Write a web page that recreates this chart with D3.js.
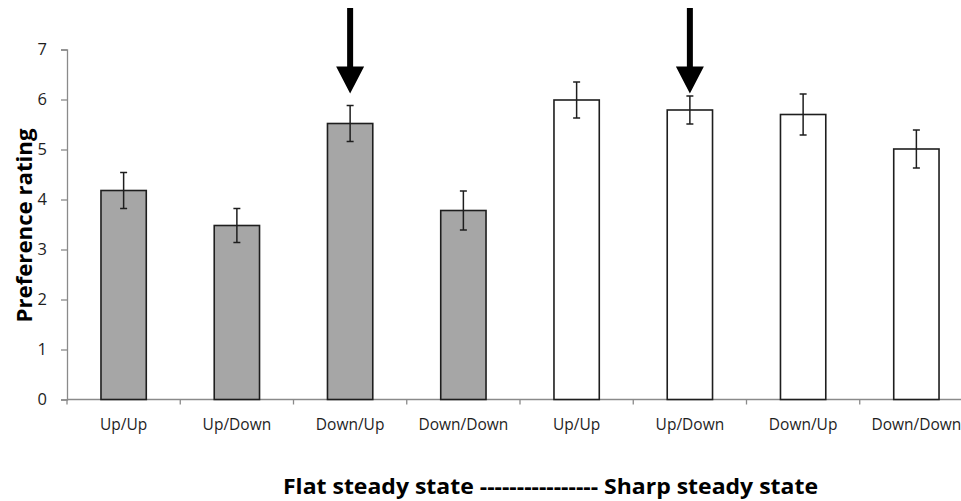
<!DOCTYPE html>
<html>
<head>
<meta charset="utf-8">
<script src="https://cdn.jsdelivr.net/npm/d3@7"></script>
<style>
  html, body { margin: 0; padding: 0; background: #fff; }
  svg { display: block; }
</style>
</head>
<body>
<svg id="chart" width="961" height="501"></svg>
<script>
// Pattern labels along the x axis (first four: flat steady state, last four: sharp)
const categories = ["Up/Up", "Up/Down", "Down/Up", "Down/Down", "Up/Up", "Up/Down", "Down/Up", "Down/Down"];
const steadyState = ["flat", "flat", "flat", "flat", "sharp", "sharp", "sharp", "sharp"];
// Mean preference rating and standard error for each condition
const means = [4.18, 3.48, 5.52, 3.78, 5.99, 5.79, 5.70, 5.01];
const errors = [0.36, 0.34, 0.36, 0.39, 0.36, 0.28, 0.41, 0.38];
const yTicks = [0, 1, 2, 3, 4, 5, 6, 7];
// Conditions highlighted with an arrow, and the rating level the arrow tips reach
const highlighted = [2, 5];
const arrowTipValue = 6.12;

const svg = d3.select("#chart");
const fontFamily = "'Open Sans', 'DejaVu Sans', sans-serif";

const axisLeftX = 67;
const plotRight = 973;
const yBottom = 399.5;
const yTop = 49.5;

const idx = categories.map((_, i) => i);

// One slot per condition; ticks sit on slot boundaries
const xGroup = d3.scaleBand().domain(idx).range([axisLeftX, plotRight]).padding(0);
// Bars inside the slots
const x = d3.scaleBand().domain(idx).range([axisLeftX, plotRight]).paddingInner(0.6).paddingOuter(0.3);
const y = d3.scaleLinear().domain([0, 7]).range([yBottom, yTop]);

const axisColor = "#8a8a8a";
const inkColor = "#1e1e1e";

// Y axis
const yAxis = svg.append("g")
  .attr("transform", `translate(${axisLeftX},0)`)
  .call(d3.axisLeft(y).tickValues(yTicks).tickFormat(d3.format("d")).tickSize(6).tickPadding(14));
yAxis.select(".domain").attr("stroke", axisColor).attr("stroke-width", 1.3);
yAxis.selectAll(".tick line").attr("stroke", axisColor).attr("stroke-width", 1.3);
yAxis.selectAll(".tick text")
  .attr("fill", inkColor)
  .style("font-family", fontFamily)
  .style("font-size", "16.5px");

// X axis line
svg.append("line")
  .attr("x1", axisLeftX).attr("x2", 961)
  .attr("y1", y(0)).attr("y2", y(0))
  .attr("stroke", axisColor).attr("stroke-width", 1.3);

// Boundary ticks
svg.append("g").selectAll("line")
  .data(idx.concat([categories.length]))
  .join("line")
  .attr("x1", d => d < categories.length ? xGroup(d) : xGroup(d - 1) + xGroup.bandwidth())
  .attr("x2", d => d < categories.length ? xGroup(d) : xGroup(d - 1) + xGroup.bandwidth())
  .attr("y1", y(0)).attr("y2", y(0) + 5)
  .attr("stroke", axisColor).attr("stroke-width", 1.3);

// Category labels
svg.append("g").selectAll("text")
  .data(idx)
  .join("text")
  .attr("x", d => xGroup(d) + xGroup.bandwidth() / 2)
  .attr("y", y(0) + 30)
  .attr("text-anchor", "middle")
  .attr("fill", inkColor)
  .style("font-family", fontFamily)
  .style("font-size", "15.5px")
  .text(d => categories[d]);

// Bars
svg.append("g").selectAll("rect")
  .data(idx)
  .join("rect")
  .attr("x", d => x(d))
  .attr("width", x.bandwidth())
  .attr("y", d => y(means[d]))
  .attr("height", d => y(0) - y(means[d]))
  .attr("fill", d => steadyState[d] === "flat" ? "#a6a6a6" : "#ffffff")
  .attr("stroke", inkColor)
  .attr("stroke-width", 1.6);

// Error bars
const capHalf = 3.5;
const eb = svg.append("g")
  .attr("stroke", inkColor)
  .attr("stroke-width", 1.5)
  .selectAll("g")
  .data(idx)
  .join("g");
eb.append("line")
  .attr("x1", d => x(d) + x.bandwidth() / 2)
  .attr("x2", d => x(d) + x.bandwidth() / 2)
  .attr("y1", d => y(means[d] + errors[d]))
  .attr("y2", d => y(means[d] - errors[d]));
eb.append("line")
  .attr("x1", d => x(d) + x.bandwidth() / 2 - capHalf)
  .attr("x2", d => x(d) + x.bandwidth() / 2 + capHalf)
  .attr("y1", d => y(means[d] + errors[d]))
  .attr("y2", d => y(means[d] + errors[d]));
eb.append("line")
  .attr("x1", d => x(d) + x.bandwidth() / 2 - capHalf)
  .attr("x2", d => x(d) + x.bandwidth() / 2 + capHalf)
  .attr("y1", d => y(means[d] - errors[d]))
  .attr("y2", d => y(means[d] - errors[d]));

// Arrows pointing at the highlighted conditions
const arrowTop = 8;
const headLen = 27;
const headHalf = 14;
const shaftHalf = 3;
svg.append("g").selectAll("path")
  .data(highlighted)
  .join("path")
  .attr("d", d => {
    const cx = x(d) + x.bandwidth() / 2;
    const tip = y(arrowTipValue);
    const neck = tip - headLen;
    return `M${cx - shaftHalf},${arrowTop} L${cx + shaftHalf},${arrowTop} L${cx + shaftHalf},${neck} ` +
           `L${cx + headHalf},${neck} L${cx},${tip} L${cx - headHalf},${neck} L${cx - shaftHalf},${neck} Z`;
  })
  .attr("fill", "#000");

// Y axis title
svg.append("text")
  .attr("transform", `translate(32,${(yTop + yBottom) / 2 + 1}) rotate(-90)`)
  .attr("text-anchor", "middle")
  .attr("fill", "#000")
  .style("font-family", fontFamily)
  .style("font-weight", "bold")
  .style("font-size", "22px")
  .attr("textLength", 194)
  .attr("lengthAdjust", "spacingAndGlyphs")
  .text("Preference rating");

// X axis title
svg.append("text")
  .attr("x", 550.5)
  .attr("y", 494)
  .attr("text-anchor", "middle")
  .attr("fill", "#000")
  .style("font-family", fontFamily)
  .style("font-weight", "bold")
  .style("font-size", "21.5px")
  .attr("textLength", 535)
  .attr("lengthAdjust", "spacingAndGlyphs")
  .text("Flat steady state ---------------- Sharp steady state");
</script>
</body>
</html>
